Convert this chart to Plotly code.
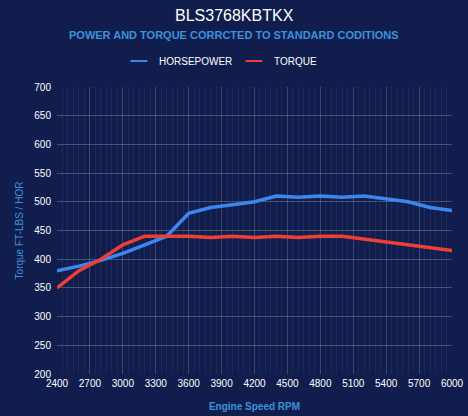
import plotly.graph_objects as go

rpm = [2400, 2600, 2800, 3000, 3200, 3400, 3600, 3800, 4000, 4200,
       4400, 4600, 4800, 5000, 5200, 5400, 5600, 5800, 6000]
horsepower = [380, 388, 398, 410, 425, 440, 480, 490, 495, 500,
              510, 508, 510, 508, 510, 505, 500, 490, 485]
torque = [350, 380, 400, 425, 440, 440, 440, 438, 440, 438,
          440, 438, 440, 440, 435, 430, 425, 420, 415]

bg = '#111e4d'
blue = '#3d86f0'
red = '#ee3e36'
label_blue = '#3b91dc'
font_main = 'Liberation Sans, Arial, sans-serif'

W, H = 468, 416
ml, mr, mt, mb = 57, 16, 87, 42
# headings are centred on the whole canvas, not on the plot area
cx = (W / 2 - ml) / (W - ml - mr)

fig = go.Figure()
fig.add_trace(go.Scatter(x=rpm, y=horsepower, mode='lines', name='HORSEPOWER',
                         line=dict(color=blue, width=3.5), showlegend=False))
fig.add_trace(go.Scatter(x=rpm, y=torque, mode='lines', name='TORQUE',
                         line=dict(color=red, width=3.5), showlegend=False))

# legend swatches (short thick dashes like the original)
for name, col in [('HORSEPOWER', blue), ('TORQUE', red)]:
    fig.add_trace(go.Scatter(x=[None], y=[None], mode='markers', name=name,
                             marker=dict(symbol='line-ew', size=11,
                                         line=dict(color=col, width=4))))

fig.update_layout(
    width=W, height=H,
    paper_bgcolor=bg, plot_bgcolor=bg,
    margin=dict(l=ml, r=mr, t=mt, b=mb),
    font=dict(family=font_main, color='white', size=10),
    legend=dict(orientation='h', x=0.5, xanchor='center', xref='container',
                y=1 - 61 / H, yanchor='middle', yref='container',
                font=dict(size=10, color='white'), bgcolor='rgba(0,0,0,0)',
                itemsizing='constant', entrywidth=70),
    annotations=[
        dict(text='BLS3768KBTKX', xref='paper', yref='paper', x=cx, y=1,
             xanchor='center', yanchor='middle', yshift=72, showarrow=False,
             font=dict(size=16, color='white')),
        dict(text='POWER AND TORQUE CORRCTED TO STANDARD CODITIONS',
             xref='paper', yref='paper', x=cx, y=1,
             xanchor='center', yanchor='middle', yshift=52, showarrow=False,
             font=dict(size=11, color=label_blue, weight=600)),
    ],
)

fig.update_xaxes(
    range=[2400, 6000], tickvals=list(range(2400, 6001, 300)),
    showgrid=True, gridcolor='rgba(255,255,255,0.14)', gridwidth=1,
    minor=dict(dtick=50, showgrid=True, gridcolor='rgba(255,255,255,0.05)'),
    zeroline=False, showline=False, ticks='', ticklabelstandoff=2,
    tickfont=dict(size=10, color='white'), automargin=False,
    title=dict(text='Engine Speed RPM',
               font=dict(size=10, color=label_blue, weight=600), standoff=14),
)
fig.update_yaxes(
    range=[200, 700], dtick=50,
    showgrid=True, gridcolor='rgba(255,255,255,0.22)', gridwidth=1,
    zeroline=False, showline=False, ticks='', ticklabelstandoff=5,
    tickfont=dict(size=10, color='white'), automargin=False,
    title=dict(text='Torque FT-LBS / HOR', font=dict(size=10, color=label_blue), standoff=8),
)

# drop the default page margin so the chart fills the window
fig.write_html("out.html", config={'displayModeBar': False},
               post_script="document.body.style.margin='0';"
                           "document.body.style.background='" + bg + "';")
